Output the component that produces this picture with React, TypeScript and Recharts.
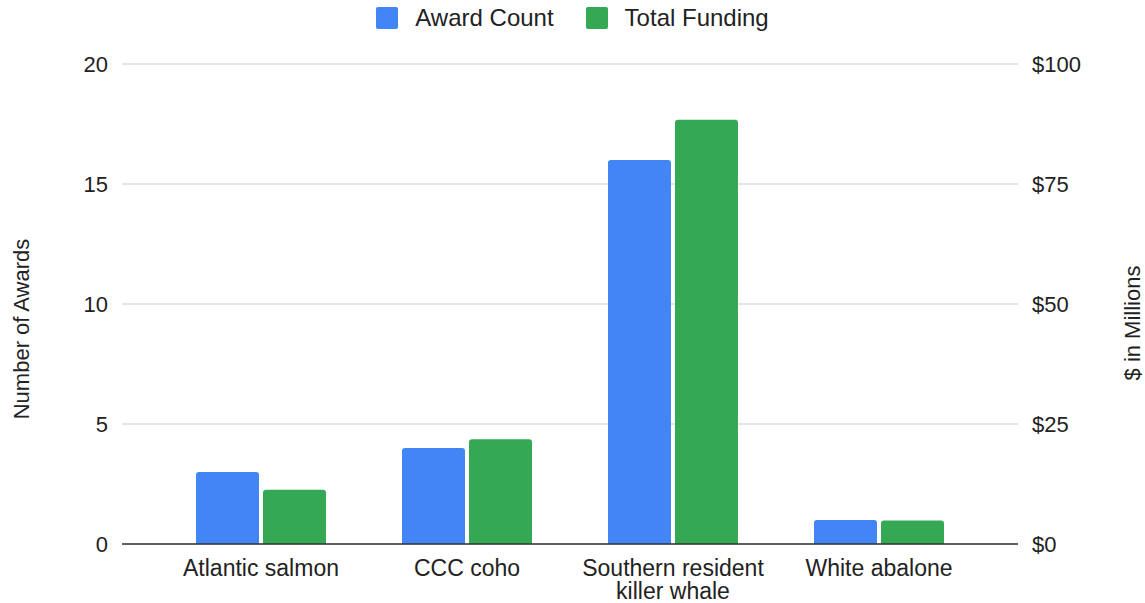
import { BarChart, Bar, XAxis, YAxis, CartesianGrid, Legend } from 'recharts';

const species = ['Atlantic salmon', 'CCC coho', 'Southern resident killer whale', 'White abalone'];
const awardCount = [3, 4, 16, 1];
const totalFunding = [11.3, 21.8, 88.4, 4.9]; // $ in millions
const countTicks = [0, 5, 10, 15, 20];
const fundingTicks = [0, 25, 50, 75, 100];

const FONT = '"Liberation Sans", Arial, sans-serif';
const BLUE = '#4285F4';
const GREEN = '#34A853';

const data = species.map((name, i) => ({
  name,
  awards: awardCount[i],
  funding: totalFunding[i],
}));

// greedy word wrap, max ~18 chars per line
function wrap(label: string, max = 18) {
  const lines: string[] = [];
  let cur = '';
  for (const w of label.split(' ')) {
    const next = cur ? cur + ' ' + w : w;
    if (next.length > max && cur) {
      lines.push(cur);
      cur = w;
    } else {
      cur = next;
    }
  }
  if (cur) lines.push(cur);
  return lines;
}

function CategoryTick(props: any) {
  const { x, y, payload } = props;
  return (
    <text x={x} y={y} textAnchor="middle" fontSize={23} fontFamily={FONT} fill="#222">
      {wrap(String(payload.value)).map((line, i) => (
        <tspan key={i} x={x} dy={i === 0 ? 15 : 23}>
          {line}
        </tspan>
      ))}
    </text>
  );
}

function LegendBox() {
  const items = [
    { label: 'Award Count', color: BLUE },
    { label: 'Total Funding', color: GREEN },
  ];
  return (
    <div style={{ display: 'flex', justifyContent: 'center', fontFamily: FONT, fontSize: 24, lineHeight: '27px', color: '#222' }}>
      {items.map((it) => (
        <div key={it.label} style={{ display: 'flex', alignItems: 'center', margin: '0 16px' }}>
          <span style={{ width: 22, height: 22, background: it.color, borderRadius: 2, marginRight: 17 }} />
          <span>{it.label}</span>
        </div>
      ))}
    </div>
  );
}

const axisTitle = (label: string, cx: number, cy: number) => () => (
  <text
    x={cx}
    y={cy}
    transform={`rotate(-90 ${cx} ${cy})`}
    textAnchor="middle"
    dominantBaseline="central"
    fontSize={22}
    fontFamily={FONT}
    fill="#222"
  >
    {label}
  </text>
);

export default function App() {
  return (
    <div style={{ position: 'absolute', left: 0, top: 0, background: '#fff' }}>
      <BarChart
        width={1145}
        height={603}
        data={data}
        margin={{ top: 37, right: 0, bottom: 0, left: 0 }}
        barGap={4}
        barSize={63}
      >
        <CartesianGrid vertical={false} stroke="#ccc" yAxisId="left" />
        <XAxis
          dataKey="name"
          height={59}
          padding={{ left: 36, right: 36 }}
          tickLine={false}
          tickSize={0}
          tickMargin={17}
          axisLine={{ stroke: '#333', strokeWidth: 1.5 }}
          interval={0}
          tick={<CategoryTick />}
        />
        <YAxis
          yAxisId="left"
          orientation="left"
          width={122}
          domain={[0, 20]}
          ticks={countTicks}
          tickLine={false}
          axisLine={false}
          tickSize={0}
          tickMargin={14}
          tick={{ fontSize: 22, fontFamily: FONT, fill: '#222' }}
          label={{ content: axisTitle('Number of Awards', 21, 329) }}
        />
        <YAxis
          yAxisId="right"
          orientation="right"
          width={127}
          domain={[0, 100]}
          ticks={fundingTicks}
          tickLine={false}
          axisLine={false}
          tickSize={0}
          tickMargin={14}
          tickFormatter={(v: number) => `$${v}`}
          tick={{ fontSize: 22, fontFamily: FONT, fill: '#222' }}
          label={{ content: axisTitle('$ in Millions', 1132, 323) }}
        />
        <Legend verticalAlign="top" content={<LegendBox />} wrapperStyle={{ top: 4, left: 0, width: 1145, height: 27 }} />
        <Bar yAxisId="left" dataKey="awards" name="Award Count" fill={BLUE} radius={[3, 3, 0, 0]} isAnimationActive={false} />
        <Bar yAxisId="right" dataKey="funding" name="Total Funding" fill={GREEN} radius={[3, 3, 0, 0]} isAnimationActive={false} />
      </BarChart>
    </div>
  );
}
